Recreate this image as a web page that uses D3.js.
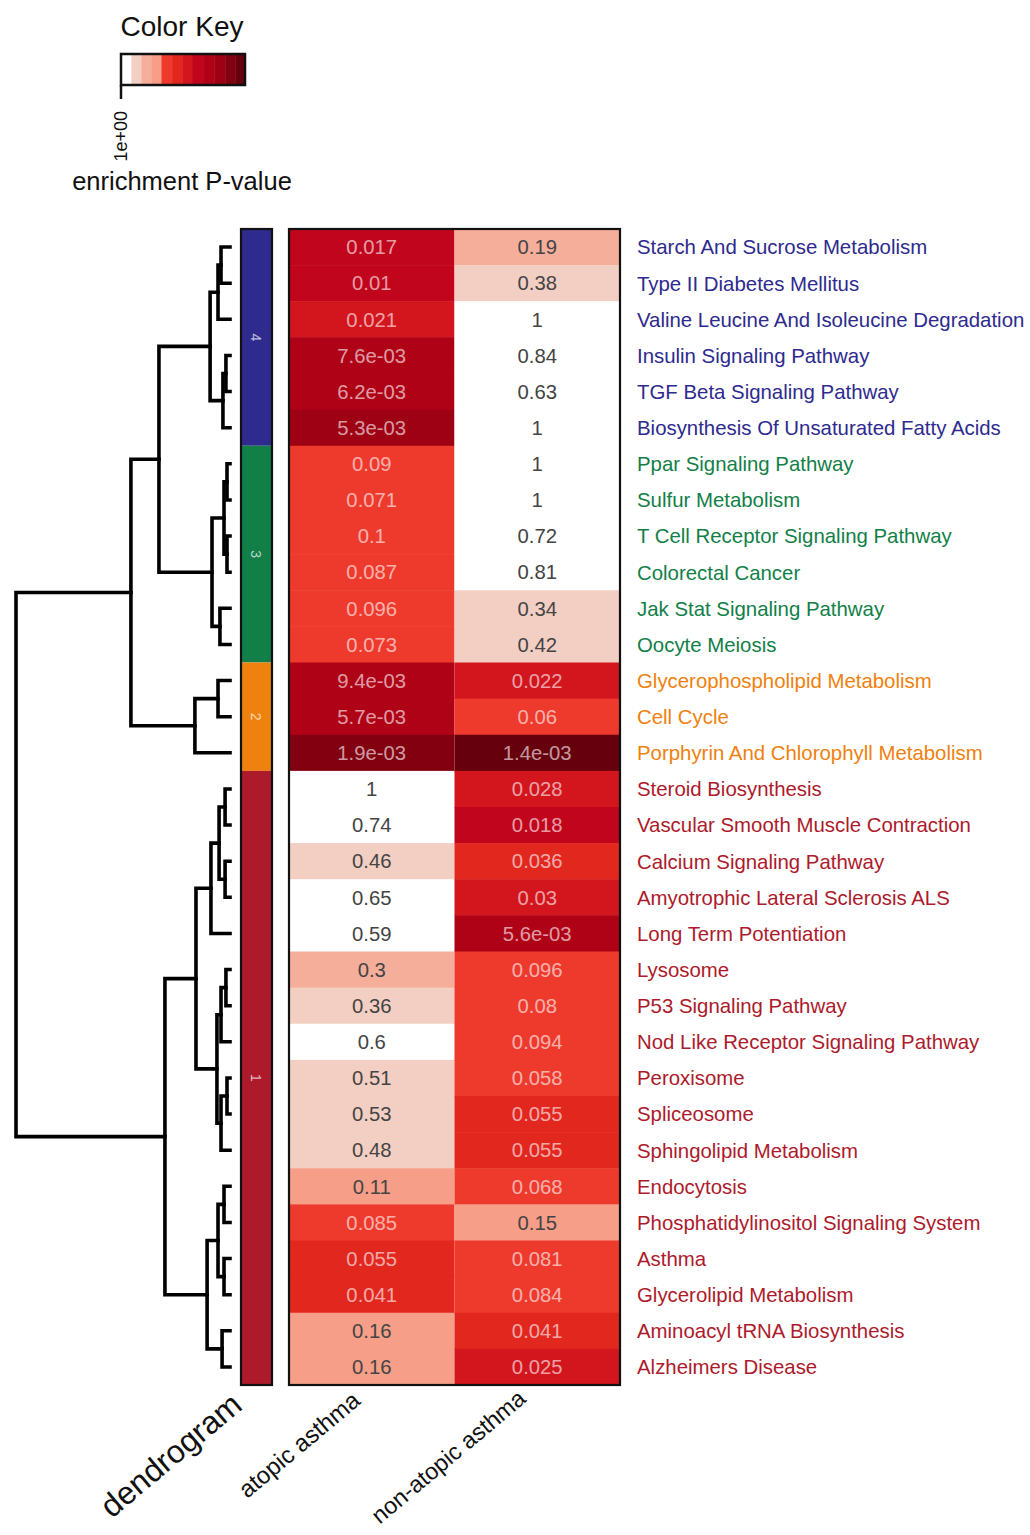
<!DOCTYPE html>
<html>
<head>
<meta charset="utf-8">
<script src="https://cdn.jsdelivr.net/npm/d3@7"></script>
<style>
  html, body { margin: 0; padding: 0; background: #fff; }
  svg { display: block; font-family: "Liberation Sans", Arial, Helvetica, sans-serif; }
</style>
</head>
<body>
<svg id="chart" width="1030" height="1535"></svg>
<script>
// Pathways in dendrogram order, top to bottom
const pathways = [
  "Starch And Sucrose Metabolism", "Type II Diabetes Mellitus",
  "Valine Leucine And Isoleucine Degradation", "Insulin Signaling Pathway",
  "TGF Beta Signaling Pathway", "Biosynthesis Of Unsaturated Fatty Acids",
  "Ppar Signaling Pathway", "Sulfur Metabolism", "T Cell Receptor Signaling Pathway",
  "Colorectal Cancer", "Jak Stat Signaling Pathway", "Oocyte Meiosis",
  "Glycerophospholipid Metabolism", "Cell Cycle", "Porphyrin And Chlorophyll Metabolism",
  "Steroid Biosynthesis", "Vascular Smooth Muscle Contraction", "Calcium Signaling Pathway",
  "Amyotrophic Lateral Sclerosis ALS", "Long Term Potentiation", "Lysosome",
  "P53 Signaling Pathway", "Nod Like Receptor Signaling Pathway", "Peroxisome",
  "Spliceosome", "Sphingolipid Metabolism", "Endocytosis",
  "Phosphatidylinositol Signaling System", "Asthma", "Glycerolipid Metabolism",
  "Aminoacyl tRNA Biosynthesis", "Alzheimers Disease"
];

// Cluster membership of each pathway
const clusters = [4,4,4,4,4,4, 3,3,3,3,3,3, 2,2,2, 1,1,1,1,1,1,1,1,1,1,1,1,1,1,1,1,1];

const conditions = ["atopic asthma", "non-atopic asthma"];

// Enrichment P-values per condition
const atopic = [
  0.017, 0.01, 0.021, 7.6e-3, 6.2e-3, 5.3e-3,
  0.09, 0.071, 0.1, 0.087, 0.096, 0.073,
  9.4e-3, 5.7e-3, 1.9e-3,
  1, 0.74, 0.46, 0.65, 0.59, 0.3, 0.36, 0.6, 0.51, 0.53, 0.48,
  0.11, 0.085, 0.055, 0.041, 0.16, 0.16
];
const nonAtopic = [
  0.19, 0.38, 1, 0.84, 0.63, 1,
  1, 1, 0.72, 0.81, 0.34, 0.42,
  0.022, 0.06, 1.4e-3,
  0.028, 0.018, 0.036, 0.03, 5.6e-3, 0.096, 0.08, 0.094, 0.058, 0.055, 0.055,
  0.068, 0.15, 0.081, 0.084, 0.041, 0.025
];

// P-value breaks of the colour key and the colour of each bin
const pBreaks = [0.0017, 0.003, 0.0055, 0.0098, 0.0185, 0.033, 0.0565, 0.105, 0.18, 0.32, 0.56];
const binColors = ["#67000d", "#820010", "#9e0014", "#af0217", "#c1051c", "#d3151d",
                   "#e2271f", "#ee3a2c", "#f69e87", "#f5ae9a", "#f3cfc3", "#ffffff"];

const clusterColors = { 4: "#2e2a8e", 3: "#127f48", 2: "#ef810e", 1: "#ad1a2b" };

// Hierarchical clustering merges: [a, b, height]; negative = leaf (row) -(i+1),
// positive = earlier merge number (1-based)
const merges = [
  [-1, -2, 0.042], [1, -3, 0.056], [-4, -5, 0.019], [3, -6, 0.033], [2, 4, 0.093],
  [-7, -8, 0.014], [-9, -10, 0.014], [6, 7, 0.028], [-11, -12, 0.047], [8, 9, 0.084],
  [5, 10, 0.332], [-13, -14, 0.056], [12, -15, 0.164], [11, 13, 0.463],
  [-16, -17, 0.023], [-18, -19, 0.023], [15, 16, 0.051], [17, -20, 0.089],
  [-21, -22, 0.019], [19, -23, 0.042], [-24, -25, 0.014], [21, -26, 0.042],
  [20, 22, 0.061], [18, 23, 0.159], [-27, -28, 0.028], [-29, -30, 0.028],
  [25, 26, 0.056], [-31, -32, 0.037], [27, 28, 0.107], [24, 29, 0.304], [14, 30, 1.0]
];

const keyTicks = [1];

// ---------------------------------------------------------------------------
const svg = d3.select("#chart");

const colour = d3.scaleThreshold().domain(pBreaks).range(binColors);

const y = d3.scaleBand().domain(d3.range(pathways.length)).range([229, 1385]);
const x = d3.scaleBand().domain(conditions).range([289, 620]);
const values = { "atopic asthma": atopic, "non-atopic asthma": nonAtopic };

const fmt = p => p < 0.01
  ? d3.format(".1e")(p).replace(/e-(\d)$/, "e-0$1")
  : d3.format(".2~g")(p);

// Heatmap cells
const cells = [];
conditions.forEach(c => values[c].forEach((p, i) => cells.push({ c, i, p })));

const cellG = svg.append("g");
cellG.selectAll("rect").data(cells).join("rect")
  .attr("x", d => x(d.c)).attr("y", d => y(d.i))
  .attr("width", x.bandwidth()).attr("height", y.bandwidth() + 0.5)
  .attr("fill", d => colour(d.p));

const isLight = p => d3.hsl(colour(p)).l > 0.65;
cellG.selectAll("text").data(cells).join("text")
  .attr("x", d => x(d.c) + x.bandwidth() / 2)
  .attr("y", d => y(d.i) + y.bandwidth() / 2)
  .attr("dy", "0.36em")
  .attr("text-anchor", "middle")
  .attr("font-size", 20.3)
  .attr("fill", d => isLight(d.p) ? "#444" : "#fff")
  .attr("fill-opacity", d => isLight(d.p) ? 1 : 0.62)
  .text(d => fmt(d.p));

svg.append("rect")
  .attr("x", 289).attr("y", 229).attr("width", 331).attr("height", 1156)
  .attr("fill", "none").attr("stroke", "#111").attr("stroke-width", 2.2);

// Row labels coloured by cluster
svg.append("g").selectAll("text").data(pathways).join("text")
  .attr("x", 637)
  .attr("y", (d, i) => y(i) + y.bandwidth() / 2)
  .attr("dy", "0.36em")
  .attr("font-size", 20.4)
  .attr("fill", (d, i) => clusterColors[clusters[i]])
  .text(d => d);

// Cluster side bar
const groups = d3.groups(d3.range(pathways.length), i => clusters[i])
  .map(([k, rows]) => ({ k, first: d3.min(rows), last: d3.max(rows) }));

const sideG = svg.append("g");
sideG.selectAll("rect").data(groups).join("rect")
  .attr("x", 241).attr("width", 31)
  .attr("y", d => y(d.first))
  .attr("height", d => y(d.last) + y.bandwidth() - y(d.first))
  .attr("fill", d => clusterColors[d.k]);
sideG.selectAll("text").data(groups).join("text")
  .attr("transform", d => `translate(256.5,${(y(d.first) + y(d.last) + y.bandwidth()) / 2}) rotate(90)`)
  .attr("text-anchor", "middle").attr("dy", "0.36em")
  .attr("font-size", 14).attr("fill", "#fff").attr("fill-opacity", 0.7)
  .text(d => d.k);
svg.append("rect")
  .attr("x", 241).attr("y", 229).attr("width", 31).attr("height", 1156)
  .attr("fill", "none").attr("stroke", "#111").attr("stroke-width", 2.2);

// Dendrogram
const hx = d3.scaleLinear().domain([0, 1]).range([230, 16]);
const nodes = merges.map(() => null);
const nodeOf = ref => ref < 0
  ? { h: 0, y: y(-ref - 1) + y.bandwidth() / 2 }
  : nodes[ref - 1];
const segs = [];
merges.forEach(([a, b, h], k) => {
  const na = nodeOf(a), nb = nodeOf(b);
  nodes[k] = { h, y: (na.y + nb.y) / 2 };
  segs.push([[hx(na.h), na.y], [hx(h), na.y], [hx(h), nb.y], [hx(nb.h), nb.y]]);
});
svg.append("g").selectAll("path").data(segs).join("path")
  .attr("d", d3.line())
  .attr("fill", "none").attr("stroke", "#000")
  .attr("stroke-width", 3.6).attr("stroke-linecap", "square").attr("stroke-linejoin", "miter");

// Column labels
const colLabels = [
  { t: "dendrogram", x: 244, y: 1408, s: 32 },
  { t: conditions[0], x: x(conditions[0]) + x.bandwidth() / 2 - 10, y: 1403, s: 24 },
  { t: conditions[1], x: x(conditions[1]) + x.bandwidth() / 2 - 10, y: 1401, s: 23.4 }
];
svg.append("g").selectAll("text").data(colLabels).join("text")
  .attr("transform", d => `translate(${d.x},${d.y}) rotate(-40)`)
  .attr("text-anchor", "end")
  .attr("font-size", d => d.s)
  .attr("fill", "#111")
  .text(d => d.t);

// Colour key
const kx = d3.scaleLinear().domain([0, -3]).range([121, 245]);
const edges = [1, ...pBreaks.slice().reverse(), 0.001];
const keyBins = binColors.slice().reverse().map((col, i) => ({
  col, x0: kx(Math.log10(edges[i])), x1: kx(Math.log10(edges[i + 1]))
}));
svg.append("text").attr("x", 182).attr("y", 36).attr("text-anchor", "middle")
  .attr("font-size", 28).attr("fill", "#111").text("Color Key");
svg.append("g").selectAll("rect").data(keyBins).join("rect")
  .attr("x", d => d.x0).attr("y", 54)
  .attr("width", d => d.x1 - d.x0 + 0.4).attr("height", 31)
  .attr("fill", d => d.col);
svg.append("rect").attr("x", 121).attr("y", 54).attr("width", 124).attr("height", 31)
  .attr("fill", "none").attr("stroke", "#111").attr("stroke-width", 2.5);
const tickG = svg.append("g").selectAll("g").data(keyTicks).join("g")
  .attr("transform", d => `translate(${kx(Math.log10(d))},0)`);
tickG.append("line").attr("y1", 85).attr("y2", 99)
  .attr("stroke", "#111").attr("stroke-width", 2.5);
tickG.append("text")
  .attr("transform", "translate(0,111) rotate(-90)")
  .attr("text-anchor", "end").attr("dy", "0.35em")
  .attr("font-size", 18).attr("fill", "#111")
  .text(d => d3.format(".0e")(d).replace(/e\+(\d)$/, "e+0$1"));
svg.append("text").attr("x", 182).attr("y", 190).attr("text-anchor", "middle")
  .attr("font-size", 25.5).attr("fill", "#111").text("enrichment P-value");
</script>
</body>
</html>
